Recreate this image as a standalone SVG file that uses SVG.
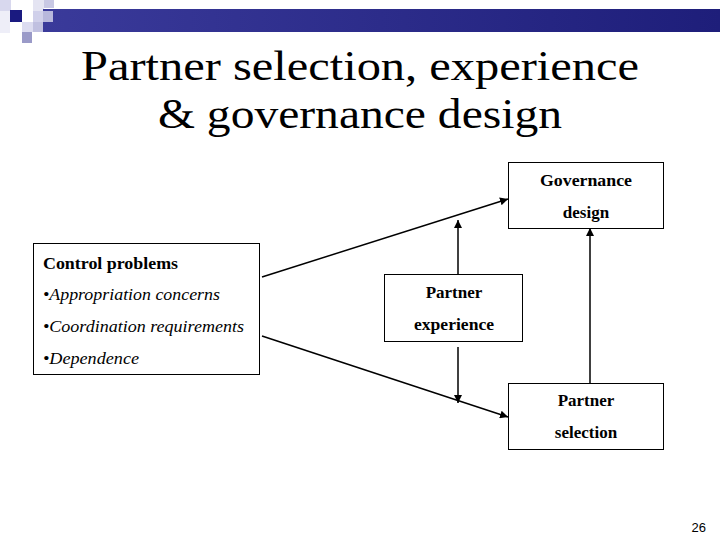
<svg xmlns="http://www.w3.org/2000/svg" width="720" height="540" viewBox="0 0 720 540">
<style>
.box{fill:#fff;stroke:#000;stroke-width:1}
.t{font-family:'Liberation Serif','Times New Roman',serif;font-size:17px;font-weight:bold;text-anchor:middle;fill:#000}
.h{font-family:'Liberation Serif','Times New Roman',serif;font-size:17px;font-weight:bold;fill:#000}
.b{font-family:'Liberation Serif','Times New Roman',serif;font-size:17px;font-style:italic;fill:#000}
.title{font-family:'Liberation Serif','Times New Roman',serif;font-size:42px;text-anchor:middle;fill:#000}
.c{stroke:#000;stroke-width:1.5;fill:none;marker-end:url(#ah)}
</style>
<defs>
<marker id="ah" viewBox="0 0 10 10" refX="10" refY="5" markerWidth="8" markerHeight="8" markerUnits="userSpaceOnUse" orient="auto">
<path d="M0,0 L10,5 L0,10 z" fill="#000"/>
</marker>
<linearGradient id="bar" x1="0" y1="0" x2="1" y2="0">
<stop offset="0" stop-color="#3a3a9a"/>
<stop offset="1" stop-color="#1e1e7a"/>
</linearGradient>
</defs>
<rect width="720" height="540" fill="#fff"/>
<g id="logo">
<rect x="0" y="0" width="11" height="11" fill="#d8d8ee"/>
<rect x="33" y="0" width="11" height="11" fill="#e4e4f2"/>
<rect x="44" y="0" width="10" height="8" fill="#c8c8e4"/>
<rect x="43" y="9" width="677" height="23" fill="url(#bar)"/>
<rect x="10" y="10" width="12" height="12" fill="#1a1a80"/>
<rect x="33" y="11" width="11" height="11" fill="#d0d0ea"/>
<rect x="43" y="11" width="10" height="11" fill="#b8b8dc"/>
<rect x="22" y="22" width="11" height="10" fill="#dcdcf0"/>
<rect x="33" y="22" width="10" height="10" fill="#c0c0e0"/>
<rect x="22" y="32" width="10" height="11" fill="#9a9ac8"/>
<rect x="0" y="11" width="10" height="22" fill="#eeeef8"/>
</g>
<g id="title">
<text class="title" x="360" y="80" textLength="558" lengthAdjust="spacingAndGlyphs">Partner selection, experience</text>
<text class="title" x="360" y="128" textLength="404" lengthAdjust="spacingAndGlyphs">&amp; governance design</text>
</g>
<g id="control">
<rect class="box" x="33.5" y="243.5" width="226" height="131"/>
<text class="h" x="43" y="269" textLength="135" lengthAdjust="spacingAndGlyphs">Control problems</text>
<text class="b" x="43" y="300" textLength="177" lengthAdjust="spacingAndGlyphs">•Appropriation concerns</text>
<text class="b" x="43" y="332" textLength="201" lengthAdjust="spacingAndGlyphs">•Coordination requirements</text>
<text class="b" x="43" y="364" textLength="96" lengthAdjust="spacingAndGlyphs">•Dependence</text>
</g>
<g id="governance">
<rect class="box" x="508.5" y="162.5" width="155" height="66"/>
<text class="t" x="586" y="186" textLength="92" lengthAdjust="spacingAndGlyphs">Governance</text>
<text class="t" x="586" y="218">design</text>
</g>
<g id="experience">
<rect class="box" x="384.5" y="274.5" width="138" height="67"/>
<text class="t" x="454" y="298">Partner</text>
<text class="t" x="454" y="330" textLength="80" lengthAdjust="spacingAndGlyphs">experience</text>
</g>
<g id="selection">
<rect class="box" x="508.5" y="383.5" width="155" height="66"/>
<text class="t" x="586" y="406">Partner</text>
<text class="t" x="586" y="438">selection</text>
</g>
<g id="connectors">
<line class="c" x1="262" y1="277" x2="508" y2="199"/>
<line class="c" x1="262" y1="336" x2="508" y2="417"/>
<line class="c" x1="458" y1="274" x2="458" y2="220"/>
<line class="c" x1="458" y1="347" x2="458" y2="403"/>
<line class="c" x1="590" y1="383" x2="590" y2="228"/>
</g>
<text x="706" y="532" font-family="Liberation Sans,sans-serif" font-size="13" text-anchor="end">26</text>
</svg>
